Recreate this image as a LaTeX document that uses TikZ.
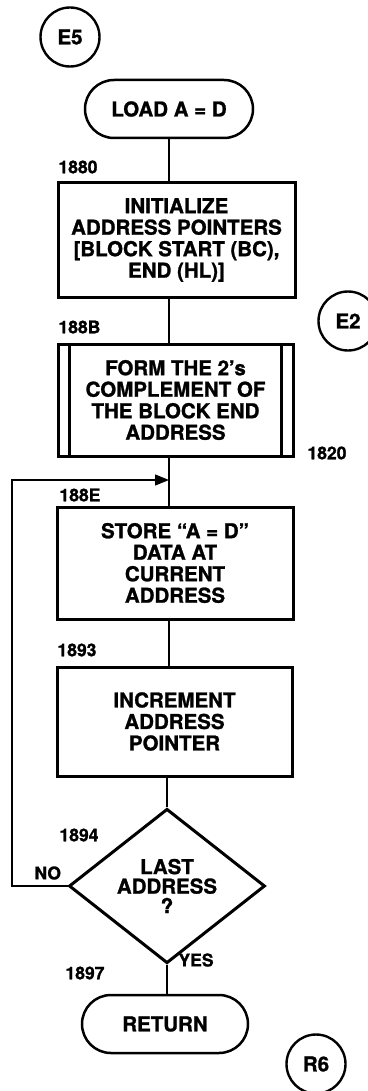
\documentclass[tikz,border=0pt]{standalone}
\usepackage{fontspec}
\setmainfont{TeX Gyre Heros}[BoldFeatures={FakeBold=1.2}]
\usetikzlibrary{arrows.meta,positioning,shapes.geometric,calc}

\begin{document}
\begin{tikzpicture}[x=1pt, y=-1pt,
  font=\fontsize{20.5}{21.5}\selectfont\bfseries,
  box/.style={draw, line width=3pt, align=center, inner sep=0pt},
  term/.style={draw, line width=2.5pt, rounded corners=29pt, minimum width=168pt, minimum height=58pt},
  conn/.style={draw, circle, line width=2.4pt, minimum size=59pt, inner sep=0pt},
  tag/.style={anchor=west, font=\fontsize{17.5}{20}\selectfont\bfseries},
  flow/.style={line width=1.4pt}]
  \useasboundingbox (0,0) rectangle (367,1091);

  \node[conn] (e5) at (70,37) {E5};
  \node[term] (load) at (169,109) {LOAD A = D};
  \node[box, minimum width=237pt, minimum height=114pt] (init) at (176.5,240)
    {INITIALIZE\\ADDRESS POINTERS\\{}[BLOCK START (BC),\\END (HL)]};
  \node[box, minimum width=235pt, minimum height=112pt] (form) at (175.5,400)
    {FORM THE 2’s\\COMPLEMENT OF\\THE BLOCK END\\ADDRESS};
  \draw[line width=2.2pt] ([xshift=13pt]form.north west) -- ([xshift=13pt]form.south west);
  \draw[line width=2.2pt] ([xshift=-13pt]form.north east) -- ([xshift=-13pt]form.south east);
  \node[box, minimum width=236pt, minimum height=112pt] (store) at (175,563)
    {STORE “A = D”\\DATA AT\\CURRENT\\ADDRESS};
  \node[box, minimum width=235pt, minimum height=109pt] (incr) at (174.5,721.5)
    {INCREMENT\\ADDRESS\\POINTER};
  \node[diamond, draw, line width=3pt, align=center, inner sep=0pt,
    minimum width=196pt, minimum height=111pt, font=\fontsize{20.5}{19.5}\selectfont\bfseries]
    (last) at (167,886) {LAST\\ADDRESS\\?};
  \node[term, minimum width=166pt] (ret) at (165,1024) {RETURN};
  \node[conn] (e2) at (348,321) {E2};
  \node[conn] (r6) at (316,1064) {R6};

  \node[tag] (a1880) at (55,167) {1880};
  \node[tag] (a188B) at (55,327) {188B};
  \node[tag] (a1820) at (304,453) {1820};
  \node[tag] (a188E) at (56,495) {188E};
  \node[tag] (a1893) at (54,650) {1893};
  \node[tag] (a1894) at (56,835) {1894};
  \node[tag] (no) at (31,873) {NO};
  \node[tag] (yes) at (175,960) {YES};
  \node[tag] (a1897) at (62,973) {1897};

  \draw[flow] (load.south) -- (load.south |- init.north);
  \draw[flow] (init.south -| load.south) -- (form.north -| load.south);
  \draw[flow] (form.south -| load.south) -- (store.north -| load.south);
  \draw[flow] (store.south -| load.south) -- (incr.north -| load.south);
  \draw[flow] (last.north |- incr.south) -- (last.north);
  \draw[flow] (last.south) -- (last.south |- ret.north);

  \coordinate (merge) at (load.south |- 0,480);
  \coordinate (back) at (12,480);
  \draw[flow, -{Triangle[length=14pt,width=11pt]}] (last.west) -| (back) -- (merge);
\end{tikzpicture}
\end{document}
